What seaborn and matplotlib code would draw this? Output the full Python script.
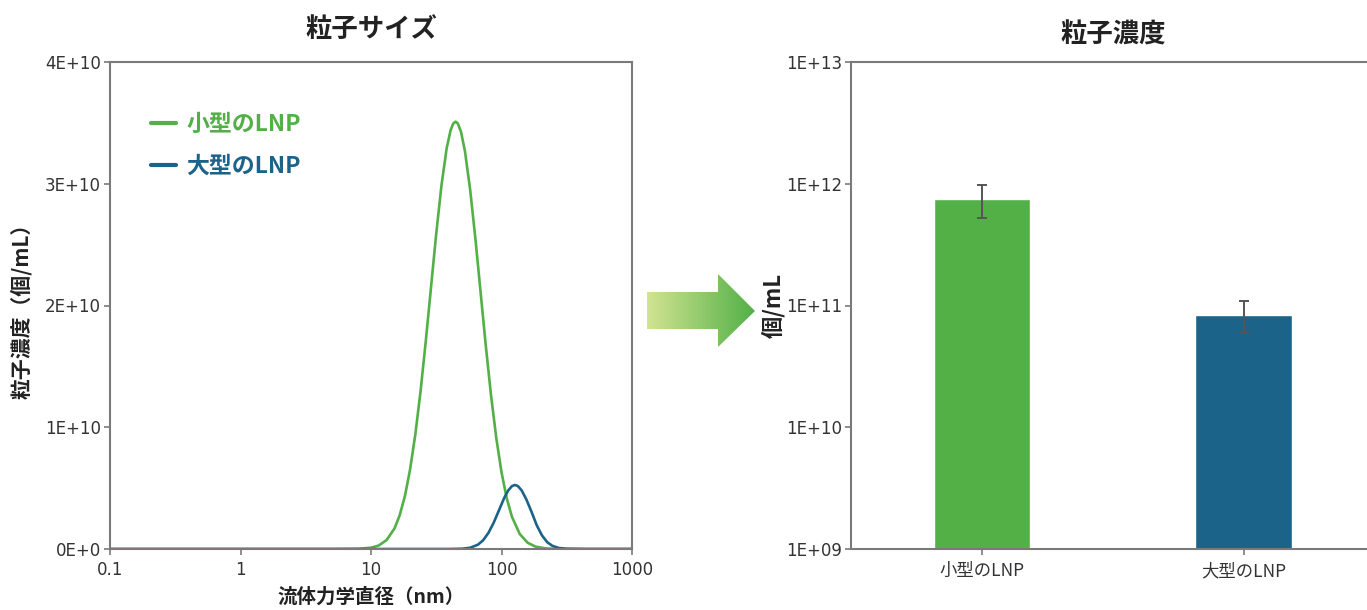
import numpy as np
import pandas as pd
import matplotlib
matplotlib.use("Agg")
import matplotlib.pyplot as plt
import seaborn as sns
from matplotlib.patches import Polygon
from matplotlib.colors import LinearSegmentedColormap
from matplotlib.lines import Line2D
from matplotlib.ticker import FixedLocator, FixedFormatter, NullLocator

# ---------------- data ----------------
small_x = [0.1, 1, 5, 7.94, 10.0, 11.48, 13.18, 15.14, 16.6, 18.2, 19.95, 21.88, 23.99, 26.3,
           28.84, 31.62, 34.67, 38.02, 40.74, 42.66, 44.46, 46.24, 48.98, 52.48, 57.54, 63.1,
           69.18, 75.86, 83.18, 91.2, 100, 109.6, 120.2, 138, 158.5, 182, 218.8, 281.8, 400,
           1000]
small_y = [0, 0, 0, 0.0015e10, 0.0105e10, 0.029e10, 0.074e10, 0.169e10, 0.278e10, 0.436e10,
           0.656e10, 0.944e10, 1.298e10, 1.709e10, 2.151e10, 2.591e10, 2.986e10, 3.293e10,
           3.44e10, 3.494e10, 3.51e10, 3.496e10, 3.425e10, 3.267e10, 2.95e10, 2.549e10,
           2.107e10, 1.666e10, 1.26e10, 0.912e10, 0.631e10, 0.418e10, 0.265e10, 0.123e10,
           0.0516e10, 0.0196e10, 0.0046e10, 0.0005e10, 0, 0]
large_x = [0.1, 10, 40, 50.1, 57.5, 66.1, 72.4, 79.4, 87.1, 95.5, 104.7, 112.2, 120.2, 126.8,
           133.4, 142.9, 154.9, 169.8, 186.2, 204.2, 223.9, 245.5, 275.4, 316.2, 450, 1000]
large_y = [0, 0, 0, 0.0023e10, 0.0101e10, 0.0358e10, 0.0726e10, 0.132e10, 0.2157e10,
           0.3166e10, 0.4174e10, 0.4787e10, 0.5167e10, 0.526e10, 0.5175e10, 0.4804e10,
           0.408e10, 0.306e10, 0.195e10, 0.112e10, 0.056e10, 0.026e10, 0.008e10, 0.002e10,
           0, 0]
series_labels = ["小型のLNP", "大型のLNP"]

x_ticks_left = [0.1, 1, 10, 100, 1000]
x_tick_labels_left = ["0.1", "1", "10", "100", "1000"]
y_ticks_left = [0, 1e10, 2e10, 3e10, 4e10]
y_tick_labels_left = ["0E+0", "1E+10", "2E+10", "3E+10", "4E+10"]

bar_categories = ["小型のLNP", "大型のLNP"]
bar_values = [7.45e11, 8.4e10]
err_low = [5.2e11, 6.0e10]
err_high = [9.7e11, 1.08e11]
y_ticks_right = [1e9, 1e10, 1e11, 1e12, 1e13]
y_tick_labels_right = ["1E+09", "1E+10", "1E+11", "1E+12", "1E+13"]

# ---------------- style ----------------
GREEN = "#52b047"
BLUE = "#1c6389"
SPINE = "#7a7a7a"
TXT = "#333333"
DARK = "#222222"

sns.set_style("white")
plt.rcParams["font.family"] = ["DejaVu Sans", "Noto Sans CJK JP"]
CJK = ["Noto Sans CJK JP", "DejaVu Sans"]

W, H = 1367, 610
fig = plt.figure(figsize=(W / 100, H / 100), dpi=100)

def fx(px):
    return px / W

def fy(py):
    return (H - py) / H

ax1 = fig.add_axes([fx(110), fy(549), (632 - 110) / W, (549 - 62) / H])
ax2 = fig.add_axes([fx(851), fy(549), (1374.5 - 851) / W, (549 - 62) / H])

# ---------------- left: size distribution ----------------
df = pd.DataFrame({
    "x": small_x + large_x,
    "y": small_y + large_y,
    "series": [series_labels[0]] * len(small_x) + [series_labels[1]] * len(large_x),
})
sns.lineplot(data=df, x="x", y="y", hue="series", palette=[GREEN, BLUE],
             estimator=None, sort=False, ax=ax1, linewidth=1.9, legend=False)
ax1.set_xscale("log")
ax1.set_xlim(0.1, 1000)
ax1.set_ylim(0, 4e10)
ax1.xaxis.set_major_locator(FixedLocator(x_ticks_left))
ax1.xaxis.set_major_formatter(FixedFormatter(x_tick_labels_left))
ax1.xaxis.set_minor_locator(NullLocator())
ax1.yaxis.set_major_locator(FixedLocator(y_ticks_left))
ax1.yaxis.set_major_formatter(FixedFormatter(y_tick_labels_left))

handles = [Line2D([], [], color=GREEN, lw=3), Line2D([], [], color=BLUE, lw=3)]
leg = ax1.legend(handles, series_labels, loc="upper left", bbox_to_anchor=(0.061, 0.915),
                 frameon=False, handlelength=1.1, handletextpad=0.45, labelspacing=0.85,
                 borderaxespad=0, prop={"family": CJK, "weight": "bold", "size": 16.5},
                 labelcolor="linecolor")

ax1.set_title("粒子サイズ", fontsize=19, fontweight="bold", family=CJK, pad=18, color=DARK)
ax1.set_xlabel("流体力学直径（nm）", fontsize=14, fontweight="bold", family=CJK, color=DARK)
ax1.set_ylabel("粒子濃度（個/mL）", fontsize=15, fontweight="bold", family=CJK, color=DARK)
ax1.xaxis.set_label_coords(0.5, -0.078)
ax1.yaxis.set_label_coords(-0.149, 0.5)

# ---------------- right: concentration bars ----------------
sns.barplot(x=bar_categories, y=bar_values, hue=bar_categories, palette=[GREEN, BLUE],
            saturation=1, width=0.368, ax=ax2, legend=False, errorbar=None)
ax2.set_yscale("log")
ax2.set_ylim(1e9, 1e13)
ax2.set_xlim(-0.5, 1.5)
vals = np.array(bar_values)
yerr = [vals - np.array(err_low), np.array(err_high) - vals]
ax2.errorbar(range(len(bar_values)), bar_values, yerr=yerr, fmt="none", ecolor="#555555",
             elinewidth=1.4, capsize=3.3, capthick=1.4, zorder=5)
ax2.yaxis.set_major_locator(FixedLocator(y_ticks_right))
ax2.yaxis.set_major_formatter(FixedFormatter(y_tick_labels_right))
ax2.yaxis.set_minor_locator(NullLocator())
ax2.set_xticks(range(len(bar_categories)))
ax2.set_xticklabels(bar_categories, family=CJK)
ax2.set_title("粒子濃度", fontsize=19, fontweight="bold", family=CJK, pad=14, color=DARK)
ax2.set_xlabel("")
ax2.set_ylabel("個/mL", fontsize=16, fontweight="bold", family=CJK, color=DARK)
ax2.yaxis.set_label_coords(-0.126, 0.5)

for ax in (ax1, ax2):
    for s in ax.spines.values():
        s.set_color(SPINE)
        s.set_linewidth(1.5)
    ax.tick_params(axis="both", which="major", direction="out", length=4.5, width=1.2,
                   color=SPINE, labelcolor=TXT, labelsize=12, pad=2,
                   bottom=True, left=True)
    ax.tick_params(axis="x", pad=4)
    ax.grid(False)
ax2.tick_params(axis="x", labelsize=12.5, pad=5)
ax2.spines["right"].set_visible(False)

# ---------------- gradient arrow ----------------
x0, x1, y0, y1 = 647, 755, 272, 347
aax = fig.add_axes([fx(x0), fy(y1), (x1 - x0) / W, (y1 - y0) / H])
aax.set_xlim(x0, x1)
aax.set_ylim(y1, y0)
aax.axis("off")
cmap = LinearSegmentedColormap.from_list("arr", ["#d2e491", "#52b047"])
grad = np.linspace(0, 1, 256).reshape(1, -1)
im = aax.imshow(grad, cmap=cmap, extent=[x0, x1, y1, y0], aspect="auto")
poly = Polygon([[647, 292], [718, 292], [718, 274], [755, 311], [718, 347], [718, 329],
                [647, 329]], closed=True, transform=aax.transData, facecolor="none",
               edgecolor="none")
aax.add_patch(poly)
im.set_clip_path(poly)

fig.savefig("out.png", dpi=100)
